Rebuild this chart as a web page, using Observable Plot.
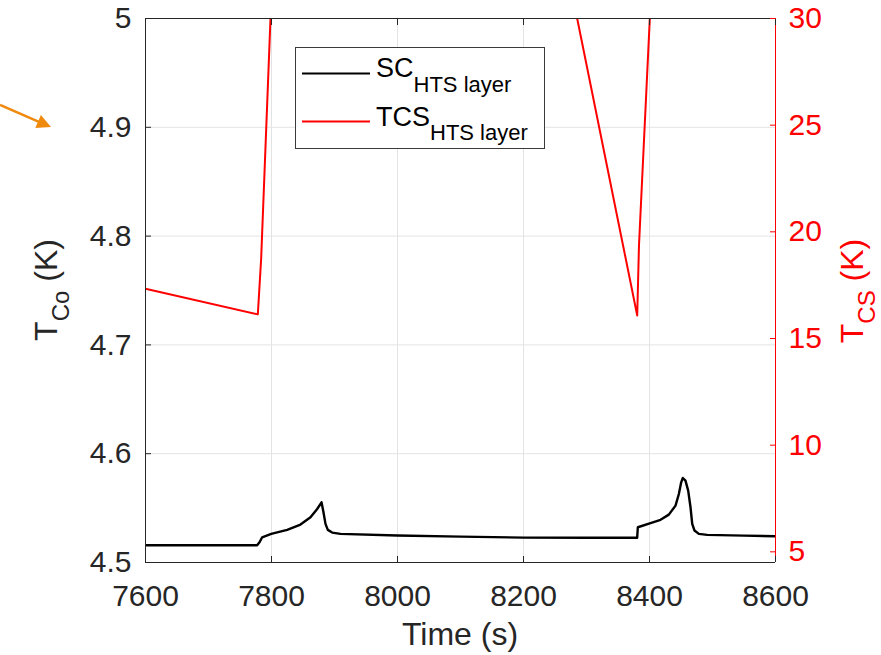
<!DOCTYPE html>
<html>
<head>
<meta charset="utf-8">
<script src="https://cdn.jsdelivr.net/npm/d3@7"></script>
<script src="https://cdn.jsdelivr.net/npm/@observablehq/plot@0.6"></script>
<style>
  html, body { margin: 0; padding: 0; background: #fff; }
  #wrap { position: relative; width: 881px; height: 655px; font-family: "Liberation Sans", Arial, Helvetica, sans-serif; }
  #wrap > svg { position: absolute; left: 0; top: 0; }
  #overlay { pointer-events: none; }
</style>
</head>
<body>
<div id="wrap"></div>
<script>
// ---- data ----
const xTicks = [7600, 7800, 8000, 8200, 8400, 8600];
const leftTicks = [4.5, 4.6, 4.7, 4.8, 4.9, 5];
const rightTicks = [5, 10, 15, 20, 25, 30];
const leftDomain = [4.5, 5];
const rightDomain = [4.5, 30];

// SC_HTS layer (left axis, K)
const scTime = [7600, 7777.2, 7781, 7785.2, 7799.5, 7824.9, 7846, 7861.9, 7872.5, 7879.4, 7882, 7885.7, 7889.4, 7896.3, 7909.5, 7999.5, 8100, 8200.5, 8300, 8380.4,
                8381.5, 8401.6, 8417.5, 8430.7, 8441.3, 8446.6, 8450.3, 8452.9, 8457.1, 8461.4, 8465.1, 8467.8, 8471.4, 8478.3, 8491.6, 8550, 8600];
const scTemp = [4.5159, 4.5159, 4.5186, 4.5232, 4.5263, 4.5300, 4.5349, 4.5416, 4.5492, 4.5553, 4.5477, 4.5355, 4.5300, 4.5275, 4.5263, 4.5248, 4.5238, 4.5229, 4.5228, 4.5227,
                4.5324, 4.5361, 4.5392, 4.5440, 4.5523, 4.5630, 4.5737, 4.5777, 4.5752, 4.5661, 4.5508, 4.5355, 4.5294, 4.5263, 4.5254, 4.5247, 4.5241];

// TCS_HTS layer (right axis, K); null = off the top of the chart
const tcsTime = [7600, 7778.3, 7783.6, 7798.4, 7800, 8285.2, 8380.5, 8383.3, 8400.5];
const tcsTemp = [17.33, 16.13, 18.75, 30, null, 30, 16.08, 19.36, 30];

// ---- build tables ----
const sc = scTime.map((t, i) => ({t, v: scTemp[i]}));
const tcs = tcsTime.map((t, i) => ({t, v: tcsTemp[i]}));

// map right-axis values into left-axis units (shared y scale)
const k = (leftDomain[1] - leftDomain[0]) / (rightDomain[1] - rightDomain[0]);
const toLeft = v => leftDomain[0] + (v - rightDomain[0]) * k;
const fromLeft = y => rightDomain[0] + (y - leftDomain[0]) / k;

const ink = "#262626";
const red = "#ff0000";
const gridColor = "#e3e3e3";

const chart = Plot.plot({
  width: 881,
  height: 655,
  marginTop: 18,
  marginRight: 106,
  marginBottom: 93,
  marginLeft: 145,
  style: {fontFamily: "'Liberation Sans', Arial, Helvetica, sans-serif", fontSize: "30px", color: ink, background: "white"},
  x: {domain: [7600, 8600]},
  y: {domain: leftDomain},
  marks: [
    Plot.gridX(xTicks, {stroke: gridColor, strokeOpacity: 1}),
    Plot.gridY(leftTicks, {stroke: gridColor, strokeOpacity: 1}),
    Plot.line(tcs, {x: "t", y: d => d.v == null ? NaN : toLeft(d.v), stroke: red, strokeWidth: 2, clip: true}),
    Plot.line(sc, {x: "t", y: "v", stroke: "black", strokeWidth: 2.4, clip: true}),
    Plot.ruleX([7600], {stroke: ink}),
    Plot.ruleY(leftDomain, {stroke: ink}),
    Plot.ruleX([8600], {stroke: red}),
    Plot.axisX({ticks: xTicks, anchor: "bottom", tickSize: -6, tickPadding: 28, tickFormat: d => String(d), label: null, color: ink}),
    Plot.axisX({ticks: xTicks, anchor: "top", tickSize: -6, tickFormat: () => "", label: null, color: ink}),
    Plot.axisY({ticks: leftTicks, anchor: "left", tickSize: -6, tickPadding: 20, tickFormat: d => String(+d.toFixed(1)), label: null, color: ink}),
    Plot.axisY({ticks: rightTicks.map(toLeft), anchor: "right", tickSize: -6, tickPadding: 19, tickFormat: d => String(Math.round(fromLeft(d))), label: null, color: red})
  ]
});

const wrap = document.getElementById("wrap");
wrap.appendChild(chart);

// ---- overlay: legend, axis titles with subscripts, annotation arrow ----
const NS = "http://www.w3.org/2000/svg";
const ov = document.createElementNS(NS, "svg");
ov.setAttribute("id", "overlay");
ov.setAttribute("width", 881);
ov.setAttribute("height", 655);
ov.innerHTML = `
  <g font-family="'Liberation Sans', Arial, Helvetica, sans-serif">
    <rect x="295.5" y="47.5" width="249" height="101" fill="white" stroke="#3a3a3a" stroke-width="1"/>
    <line x1="302" x2="370" y1="73.5" y2="73.5" stroke="black" stroke-width="2"/>
    <text x="376" y="77" font-size="27" fill="black">SC<tspan font-size="22" dy="15">HTS layer</tspan></text>
    <line x1="302" x2="370" y1="121.5" y2="121.5" stroke="${red}" stroke-width="2"/>
    <text x="376" y="126" font-size="27" fill="black">TCS<tspan font-size="22" dy="14">HTS layer</tspan></text>

    <text x="460" y="645" font-size="32" fill="${ink}" text-anchor="middle">Time (s)</text>
    <text transform="translate(57,290) rotate(-90)" font-size="32" fill="${ink}" text-anchor="middle">T<tspan font-size="24" dy="12">Co</tspan><tspan dy="-12"> (K)</tspan></text>
    <text transform="translate(863,291) rotate(-90)" font-size="32" fill="${red}" text-anchor="middle">T<tspan font-size="24" dy="12">CS</tspan><tspan dy="-12"> (K)</tspan></text>
  </g>
  <line x1="0" y1="105" x2="39" y2="121.8" stroke="#ef8a0e" stroke-width="2.5"/>
  <polygon points="51,127 35.3,127.9 40.9,115" fill="#ef8a0e"/>
`;
wrap.appendChild(ov);
</script>
</body>
</html>
